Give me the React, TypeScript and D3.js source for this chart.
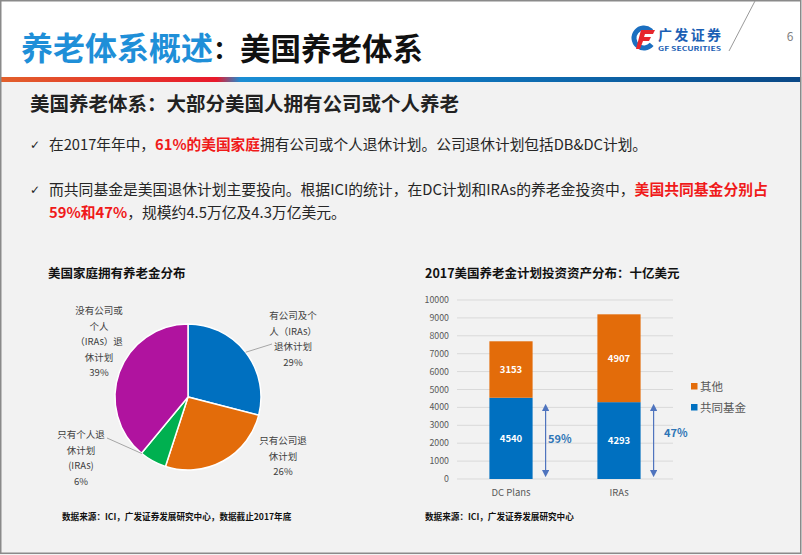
import React from 'react';
import * as d3 from 'd3';

// ---------- DATA ----------
const pieNames = ['有公司及个人（IRAs）退休计划', '只有公司退休计划', '只有个人退休计划(IRAs)', '没有公司或个人（IRAs）退休计划'];
const pieValues = [29, 26, 6, 39];
const pieLabelLines = [
  ['有公司及个', '人（IRAs）', '退休计划', '29%'],
  ['只有公司退', '休计划', '26%'],
  ['只有个人退', '休计划', '(IRAs)', '6%'],
  ['没有公司或', '个人', '（IRAs）退', '休计划', '39%'],
];

const barCategories = ['DC Plans', 'IRAs'];
const mutualFundValues = [4540, 4293];
const otherValues = [3153, 4907];
const mutualShareLabels = ['59%', '47%'];
const seriesNames = ['其他', '共同基金'];
const yTickValues = [0, 1000, 2000, 3000, 4000, 5000, 6000, 7000, 8000, 9000, 10000];
const arrowRange = [300, 4000];

// ---------- STYLE ----------
const FONT = "'Noto Sans CJK SC', 'Noto Sans', sans-serif";
const pieColors = ['#0070c0', '#e36c0a', '#00b050', '#b0139f'];
const blue = '#0070c0';
const orange = '#e36c0a';

export default function App() {
  // Pie
  const cx = 188, cy = 397, R = 73;
  const pieGen = d3.pie<number>().sort(null).startAngle(0).endAngle(2 * Math.PI);
  const arcs = pieGen(pieValues);
  const arcGen = d3.arc<d3.PieArcDatum<number>>().innerRadius(0).outerRadius(R);
  const labelLayout = [
    { x: 293, y: 316, lead: [272, 344], leadAngle: null as number | null },
    { x: 283, y: 441, lead: null as any, leadAngle: null },
    { x: 81, y: 435, lead: [107, 438], leadAngle: 0.98 },
    { x: 99, y: 311, lead: null as any, leadAngle: null },
  ];
  const lh = 15.5;

  // Bars
  const x = d3.scaleBand<string>().domain(barCategories).range([457, 673]).padding(0);
  const y = d3.scaleLinear().domain([0, 10000]).range([479, 300]);
  const bw = x.bandwidth() * 0.4;

  const headerGrad = 'hdrGrad';

  return (
    <svg width={802} height={555} style={{ position: 'absolute', left: 0, top: 0, fontFamily: FONT }}>
      <defs>
        <linearGradient id={headerGrad} x1="0" x2="1" y1="0" y2="0">
          <stop offset="0" stopColor="#e2602b" />
          <stop offset="0.27" stopColor="#e8192c" />
          <stop offset="0.3" stopColor="#1a8ed4" />
          <stop offset="0.55" stopColor="#0f78c0" />
          <stop offset="1" stopColor="#0a4886" />
        </linearGradient>
        <marker id="arrowHead" viewBox="0 0 10 10" refX="5" refY="5" markerWidth="6" markerHeight="6" orient="auto-start-reverse">
          <path d="M0,0 L10,5 L0,10 z" fill="#4f74be" />
        </marker>
      </defs>

      {/* backgrounds */}
      <rect x={0} y={0} width={802} height={555} fill="#f2f2f2" />
      <rect x={0} y={0} width={802} height={77} fill="#ffffff" />
      <rect x={1} y={77} width={799} height={5} fill={`url(#${headerGrad})`} />
      <rect x={0.75} y={0.75} width={800} height={552.5} fill="none" stroke="#8a8a8a" strokeWidth={1.5} />

      {/* header title */}
      <text x={21} y={60} fontSize={32} fontWeight={700} fill="#1f8fd8">养老体系概述</text>
      <text x={213} y={59} fontSize={26} fontWeight={700} fill="#111">：</text>
      <text x={240} y={60} fontSize={30.5} fontWeight={700} fill="#111">美国养老体系</text>

      {/* logo */}
      <g>
        <circle cx={644} cy={38} r={10} fill="none" stroke="#1b6fc0" strokeWidth={5} strokeDasharray="48 15" transform="rotate(40 644 38)" />
        <path d="M641,30 L655,30 L653,34 L645,34 L644,37 L651,37 L649,41 L643,41 L640,49 L636,49 Z" fill="#e6262c" />
        <text x={658} y={39.5} fontSize={14} fontWeight={700} fill="#1b5fb4" textLength={63}>广发证券</text>
        <text x={658} y={50.5} fontSize={6} fontWeight={700} fill="#1b5fb4" textLength={63} lengthAdjust="spacingAndGlyphs">GF SECURITIES</text>
      </g>
      <line x1={755} y1={1} x2={729} y2={51} stroke="#9a9a9a" strokeWidth={1} />
      <text x={790} y={41} fontSize={12} fill="#7f7f7f" textAnchor="middle">6</text>

      {/* subtitle */}
      <text x={30} y={111} fontSize={19.5} fontWeight={700} fill="#222">美国养老体系：大部分美国人拥有公司或个人养老</text>

      {/* bullets */}
      <text x={30} y={149} fontSize={12} fill="#222" fontFamily="'DejaVu Sans', sans-serif">✓</text>
      <text x={49} y={150} fontSize={14.7} fill="#262626">
        在2017年年中，<tspan fill="#f01a1a" fontWeight={700}>61%的美国家庭</tspan>拥有公司或个人退休计划。公司退休计划包括DB&amp;DC计划。
      </text>
      <text x={30} y={194} fontSize={12} fill="#222" fontFamily="'DejaVu Sans', sans-serif">✓</text>
      <text x={49} y={195} fontSize={14.8} fill="#262626">
        而共同基金是美国退休计划主要投向。根据ICI的统计，在DC计划和IRAs的养老金投资中，<tspan fill="#f01a1a" fontWeight={700}>美国共同基金分别占</tspan>
      </text>
      <text x={49} y={218} fontSize={14.8} fill="#262626">
        <tspan fill="#f01a1a" fontWeight={700}>59%和47%</tspan>，规模约4.5万亿及4.3万亿美元。
      </text>

      {/* ---- Pie chart ---- */}
      <text x={48} y={278} fontSize={12.5} fontWeight={700} fill="#111">美国家庭拥有养老金分布</text>
      <g transform={`translate(${cx},${cy})`}>
        {arcs.map((a, i) => (
          <path key={pieNames[i]} d={arcGen(a) || ''} fill={pieColors[i]} stroke="#ffffff" strokeWidth={1.5} />
        ))}
      </g>
      {arcs.map((a, i) => {
        const L = labelLayout[i];
        if (!L.lead) return null;
        const ang = L.leadAngle != null ? a.startAngle + (a.endAngle - a.startAngle) * L.leadAngle : (a.startAngle + a.endAngle) / 2;
        const px = cx + R * Math.sin(ang);
        const py = cy - R * Math.cos(ang);
        return <line key={'ld' + i} x1={px} y1={py} x2={L.lead[0]} y2={L.lead[1]} stroke="#a6a6a6" strokeWidth={1} />;
      })}
      {pieLabelLines.map((lines, i) => (
        <text key={'pl' + i} fontSize={9.5} fill="#404040" textAnchor="middle">
          {lines.map((ln, j) => (
            <tspan key={j} x={labelLayout[i].x} y={labelLayout[i].y + j * lh + 3.4}>{ln}</tspan>
          ))}
        </text>
      ))}
      <text x={62} y={520} fontSize={8.6} fontWeight={700} fill="#111">数据来源：ICI，广发证券发展研究中心，数据截止2017年底</text>

      {/* ---- Bar chart ---- */}
      <text x={425} y={278} fontSize={12.5} fontWeight={700} fill="#111">2017美国养老金计划投资资产分布：十亿美元</text>
      {yTickValues.map(t => (
        <g key={'t' + t}>
          <line x1={457} x2={673} y1={y(t)} y2={y(t)} stroke="#d9d9d9" strokeWidth={1} />
          <text x={449} y={y(t) + 3} fontSize={8.8} fill="#595959" textAnchor="end">{t}</text>
        </g>
      ))}
      {barCategories.map((c, i) => {
        const bx = (x(c) || 0) + (x.bandwidth() - bw) / 2;
        const mf = mutualFundValues[i];
        const ot = otherValues[i];
        return (
          <g key={c}>
            <rect x={bx} y={y(mf)} width={bw} height={y(0) - y(mf)} fill={blue} />
            <rect x={bx} y={y(mf + ot)} width={bw} height={y(mf) - y(mf + ot)} fill={orange} />
            <text x={bx + bw / 2} y={(y(0) + y(mf)) / 2 + 3.5} fontSize={9.5} fontWeight={700} fill="#fff" textAnchor="middle">{mf}</text>
            <text x={bx + bw / 2} y={(y(mf) + y(mf + ot)) / 2 + 3.5} fontSize={9.5} fontWeight={700} fill="#fff" textAnchor="middle">{ot}</text>
            <text x={bx + bw / 2} y={496} fontSize={9.5} fill="#595959" textAnchor="middle">{c}</text>
            <line x1={bx + bw + 13} x2={bx + bw + 13} y1={y(arrowRange[0])} y2={y(arrowRange[1])}
              stroke="#4f74be" strokeWidth={1.2} markerStart="url(#arrowHead)" markerEnd="url(#arrowHead)" />
          </g>
        );
      })}
      <text x={548} y={443} fontSize={11} fontWeight={700} fill="#2e75b6">{mutualShareLabels[0]}</text>
      <text x={664} y={437} fontSize={11} fontWeight={700} fill="#2e75b6">{mutualShareLabels[1]}</text>

      {/* legend */}
      <rect x={691} y={383} width={6.5} height={6.5} fill={orange} />
      <text x={700} y={390.5} fontSize={11.5} fill="#595959">{seriesNames[0]}</text>
      <rect x={691} y={404} width={6.5} height={6.5} fill={blue} />
      <text x={700} y={411.5} fontSize={11.5} fill="#595959">{seriesNames[1]}</text>

      <text x={425} y={520} fontSize={8.6} fontWeight={700} fill="#111">数据来源：ICI，广发证券发展研究中心</text>
    </svg>
  );
}
